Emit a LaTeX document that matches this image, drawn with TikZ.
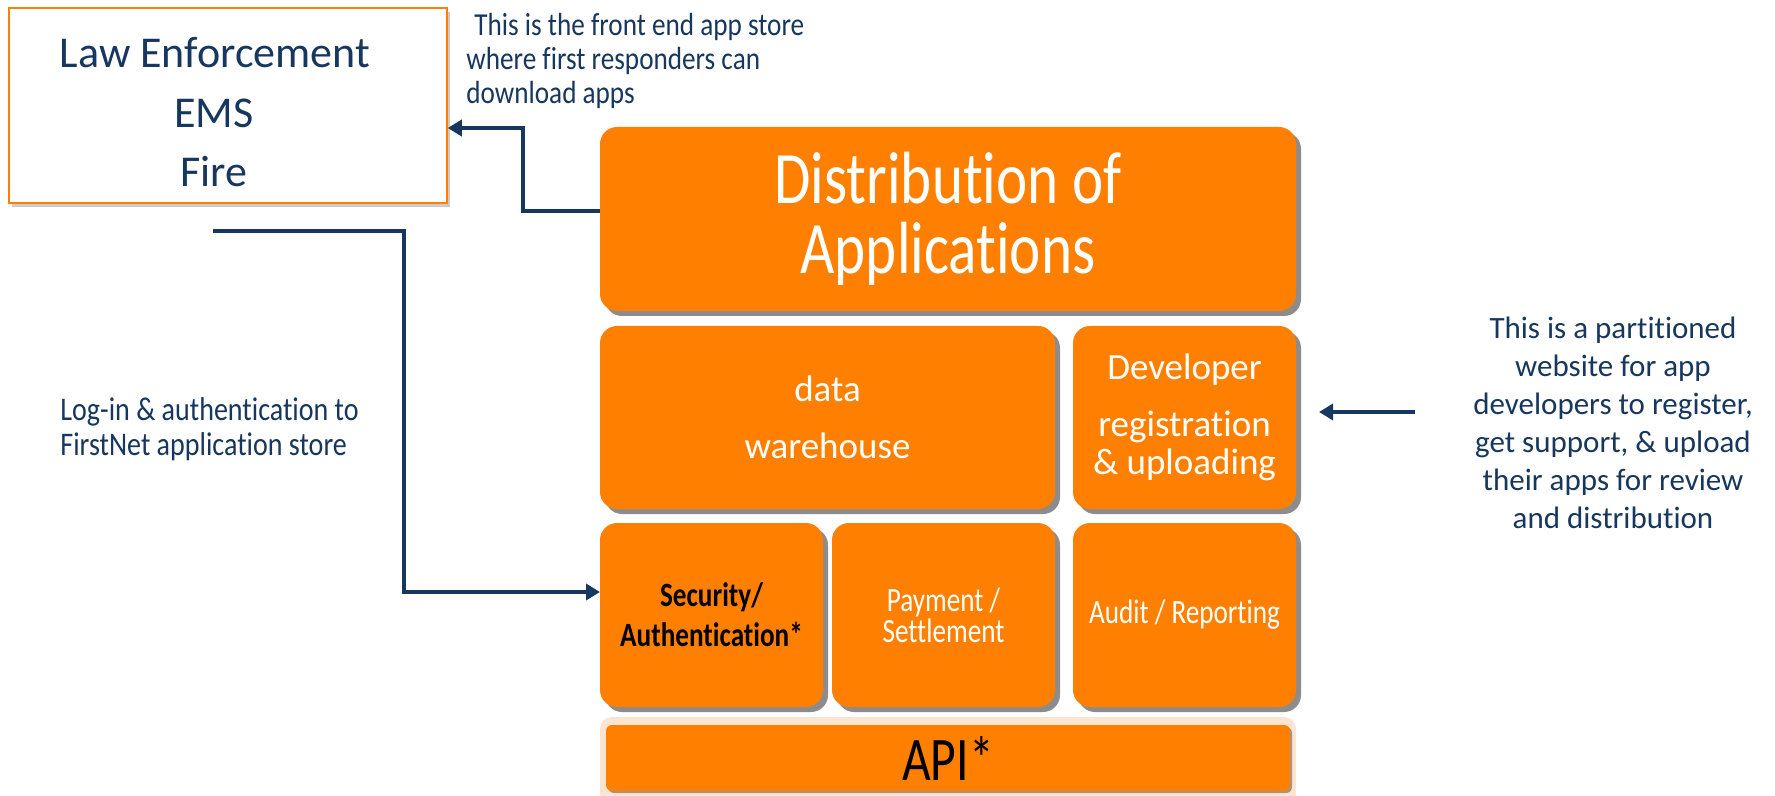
\documentclass[tikz,border=0pt]{standalone}
\usepackage{fontspec}
\defaultfontfeatures{Ligatures={NoCommon}}
\setmainfont{Carlito}
\newfontfamily\condA[FakeStretch=0.85]{Carlito}
\newfontfamily\condB[FakeStretch=0.8]{Carlito}
\usetikzlibrary{shadows,arrows.meta}
\definecolor{org}{RGB}{255,128,0}
\definecolor{navy}{RGB}{23,55,94}
\definecolor{peach}{RGB}{251,229,210}
\tikzset{
 obox/.style={fill=org, rounded corners=8.5pt, inner sep=0pt, outer sep=0pt, text=white, align=center,
   drop shadow={shadow xshift=2.5pt, shadow yshift=-2.5pt, fill=black, opacity=0.45}},
 conn/.style={draw=navy, line width=2.2pt, -{Triangle[length=7pt,width=8pt]}},
 note/.style={text=navy, inner sep=0pt},
}
\begin{document}
\begin{tikzpicture}[x=0.5pt,y=-0.5pt]
\useasboundingbox (0,0) rectangle (1775,796);
\fill[white] (0,0) rectangle (1775,796);

% users box
\node[draw=org, line width=0.8pt, fill=white, minimum width=219pt, minimum height=97.5pt, inner sep=0pt,
  drop shadow={shadow xshift=1.5pt, shadow yshift=-2pt, fill=black, opacity=0.2}] (law) at (228,105.5) {};
\node[note, font=\fontsize{22}{26}\selectfont] (l1) at (215,53) {Law Enforcement};
\node[note, font=\fontsize{22}{26}\selectfont] (l2) at (214,113) {EMS};
\node[note, font=\fontsize{22}{26}\selectfont] (l3) at (214,172) {Fire};

% stack
\node[obox, minimum width=348pt, minimum height=92pt, font=\condB\fontsize{37}{35}\selectfont] (dist) at (948,219) {Distribution of\\Applications};
\node[obox, minimum width=227.5pt, minimum height=91.5pt, font=\fontsize{18.5}{28.5}\selectfont] (dw) at (827.5,417.5) {data\\warehouse};
\node[obox, minimum width=111.5pt, minimum height=91.5pt, font=\fontsize{18.5}{19}\selectfont] (dev) at (1184.5,417.5) {Developer\\[9.5pt]registration\\\& uploading};
\node[obox, minimum width=111.5pt, minimum height=92pt, text=black, font=\condB\bfseries\fontsize{17}{20}\selectfont] (sec) at (711.5,615) {Security/\\Authentication*};
\node[obox, minimum width=111.5pt, minimum height=92pt, font=\condB\fontsize{17}{14}\selectfont] (pay) at (943.5,615) {Payment /\\Settlement};
\node[obox, minimum width=111.5pt, minimum height=92pt, font=\condB\fontsize{17}{20}\selectfont] (aud) at (1184.5,615) {Audit / Reporting};

% API
\node[fill=peach, rounded corners=6pt, minimum width=348pt, minimum height=44pt, inner sep=0pt] (apiframe) at (948,761) {};
\node[fill=org, rounded corners=3pt, minimum width=342pt, minimum height=33pt, inner sep=0pt, text=black,
  font=\condB\fontsize{31}{33}\selectfont,
  drop shadow={shadow xshift=1pt, shadow yshift=-1pt, fill=black, opacity=0.35}] (api) at (948,758) {API*};

% notes
\node[note, anchor=west, align=left, font=\condA\fontsize{16}{17}\selectfont] (topnote) at (466,61)
  {\hspace*{0.25em}This is the front end app store\\where first responders can\\download apps};
\node[note, anchor=west, align=left, font=\condA\fontsize{16.5}{17.5}\selectfont] (loginnote) at (60,429)
  {Log-in \& authentication to\\FirstNet application store};
\node[note, align=center, font=\fontsize{15.5}{19}\selectfont] (devnote) at (1613,423)
  {This is a partitioned\\website for app\\developers to register,\\get support, \& upload\\their apps for review\\and distribution};

% connectors
\draw[conn] ([yshift=4pt]dist.west) -- ++(-77,0) |- ([yshift=-11.25pt]law.east);
\coordinate (lstart) at (213,231);
\draw[conn] (lstart) -- ++(191,0) |- ([yshift=11.5pt]sec.west);
\coordinate (rstart) at (1415,412);
\draw[conn] (rstart) -- ([xshift=11.5pt,yshift=2.75pt]dev.east);
\end{tikzpicture}
\end{document}
